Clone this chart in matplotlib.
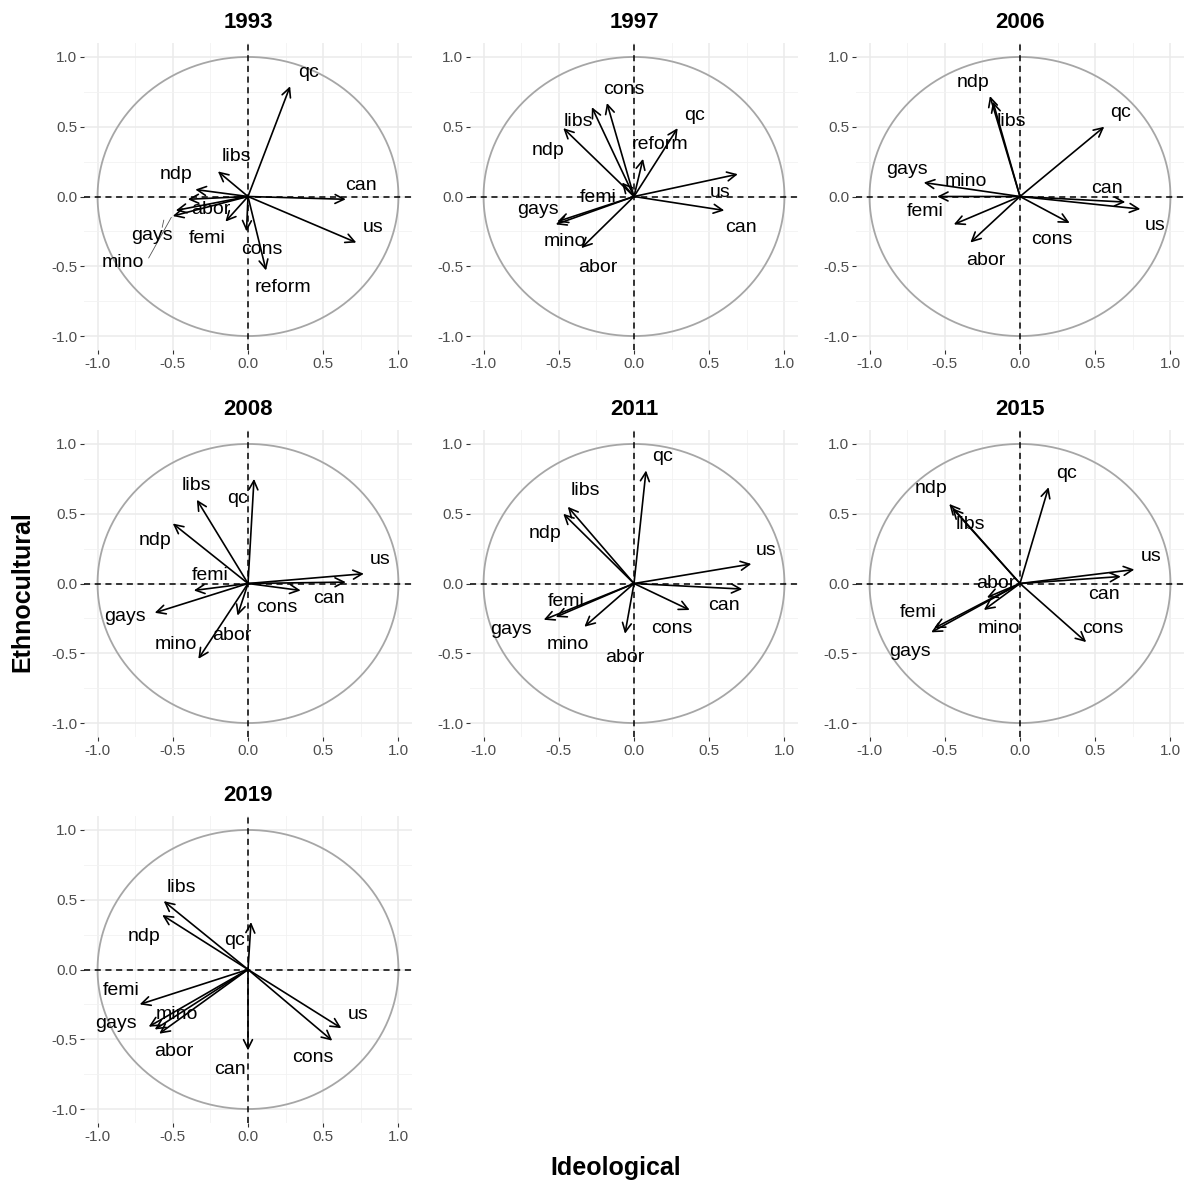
import numpy as np
import matplotlib
matplotlib.use("Agg")
from matplotlib import pyplot as plt
from matplotlib.ticker import MultipleLocator

plt.rcParams['font.family'] = ['Liberation Sans', 'DejaVu Sans']

years = ['1993', '1997', '2006', '2008', '2011', '2015', '2019']

# variable coordinates (Ideological, Ethnocultural) per year
vars_1993 = ['qc', 'can', 'us', 'reform', 'cons', 'libs', 'ndp', 'abor', 'femi', 'gays', 'mino']
x_1993 = [0.28, 0.65, 0.72, 0.12, -0.01, -0.20, -0.35, -0.40, -0.15, -0.50, -0.48]
y_1993 = [0.79, -0.02, -0.33, -0.53, -0.25, 0.18, 0.05, -0.02, -0.18, -0.14, -0.10]

vars_1997 = ['cons', 'libs', 'ndp', 'qc', 'reform', 'us', 'can', 'femi', 'gays', 'mino', 'abor']
x_1997 = [-0.18, -0.28, -0.47, 0.29, 0.06, 0.69, 0.60, -0.08, -0.52, -0.51, -0.35]
y_1997 = [0.67, 0.64, 0.49, 0.49, 0.27, 0.16, -0.10, 0.10, -0.20, -0.18, -0.37]

vars_2006 = ['ndp', 'libs', 'qc', 'gays', 'mino', 'femi', 'abor', 'cons', 'can', 'us']
x_2006 = [-0.20, -0.18, 0.56, -0.64, -0.55, -0.44, -0.33, 0.33, 0.70, 0.80]
y_2006 = [0.72, 0.68, 0.50, 0.10, 0.00, -0.20, -0.33, -0.19, -0.04, -0.09]

vars_2008 = ['qc', 'libs', 'ndp', 'us', 'can', 'cons', 'femi', 'gays', 'abor', 'mino']
x_2008 = [0.04, -0.34, -0.50, 0.77, 0.65, 0.35, -0.36, -0.62, -0.07, -0.33]
y_2008 = [0.75, 0.60, 0.43, 0.07, 0.01, -0.05, -0.05, -0.21, -0.23, -0.54]

vars_2011 = ['qc', 'libs', 'ndp', 'us', 'can', 'cons', 'femi', 'gays', 'mino', 'abor']
x_2011 = [0.08, -0.44, -0.47, 0.78, 0.72, 0.37, -0.52, -0.60, -0.33, -0.06]
y_2011 = [0.81, 0.55, 0.50, 0.14, -0.04, -0.19, -0.24, -0.26, -0.31, -0.36]

vars_2015 = ['qc', 'ndp', 'libs', 'us', 'can', 'cons', 'abor', 'mino', 'femi', 'gays']
x_2015 = [0.19, -0.47, -0.45, 0.76, 0.67, 0.44, -0.22, -0.24, -0.57, -0.59]
y_2015 = [0.69, 0.57, 0.54, 0.10, 0.05, -0.42, -0.10, -0.19, -0.32, -0.35]

vars_2019 = ['libs', 'ndp', 'qc', 'femi', 'mino', 'gays', 'abor', 'can', 'us', 'cons']
x_2019 = [-0.56, -0.57, 0.02, -0.72, -0.62, -0.66, -0.59, 0.00, 0.62, 0.56]
y_2019 = [0.49, 0.39, 0.34, -0.25, -0.43, -0.41, -0.46, -0.58, -0.42, -0.51]

# label positions (as repelled in the original)
labx_1993 = [0.40, 0.75, 0.83, 0.23, 0.09, -0.08, -0.48, -0.25, -0.27, -0.64, -0.83]
laby_1993 = [0.89, 0.08, -0.22, -0.65, -0.38, 0.29, 0.16, -0.09, -0.30, -0.28, -0.47]
labx_1997 = [-0.07, -0.37, -0.57, 0.40, 0.17, 0.57, 0.71, -0.24, -0.64, -0.46, -0.24]
laby_1997 = [0.77, 0.54, 0.33, 0.58, 0.37, 0.03, -0.22, -0.01, -0.09, -0.32, -0.51]
labx_2006 = [-0.31, -0.06, 0.67, -0.75, -0.36, -0.63, -0.23, 0.21, 0.58, 0.90]
laby_2006 = [0.82, 0.54, 0.60, 0.19, 0.11, -0.11, -0.46, -0.31, 0.06, -0.21]
labx_2008 = [-0.07, -0.34, -0.62, 0.88, 0.54, 0.19, -0.25, -0.82, -0.11, -0.48]
laby_2008 = [0.61, 0.70, 0.31, 0.17, -0.11, -0.17, 0.06, -0.24, -0.37, -0.44]
labx_2011 = [0.19, -0.32, -0.59, 0.88, 0.60, 0.25, -0.45, -0.82, -0.44, -0.06]
laby_2011 = [0.91, 0.67, 0.36, 0.24, -0.16, -0.32, -0.13, -0.33, -0.44, -0.53]
labx_2015 = [0.31, -0.59, -0.33, 0.87, 0.56, 0.55, -0.16, -0.14, -0.68, -0.73]
laby_2015 = [0.79, 0.68, 0.42, 0.19, -0.08, -0.32, 0.00, -0.32, -0.21, -0.49]
labx_2019 = [-0.44, -0.69, -0.09, -0.84, -0.47, -0.88, -0.49, -0.12, 0.73, 0.43]
laby_2019 = [0.59, 0.24, 0.21, -0.15, -0.32, -0.39, -0.59, -0.72, -0.32, -0.63]

panels = [
    (vars_1993, x_1993, y_1993, labx_1993, laby_1993),
    (vars_1997, x_1997, y_1997, labx_1997, laby_1997),
    (vars_2006, x_2006, y_2006, labx_2006, laby_2006),
    (vars_2008, x_2008, y_2008, labx_2008, laby_2008),
    (vars_2011, x_2011, y_2011, labx_2011, laby_2011),
    (vars_2015, x_2015, y_2015, labx_2015, laby_2015),
    (vars_2019, x_2019, y_2019, labx_2019, laby_2019),
]

W, H = 1193, 1191
fig = plt.figure(figsize=(W / 100, H / 100), dpi=100)

col_left = [84, 470, 856]
row_top = [43, 430, 816]
pw, ph = 328, 307

theta = np.linspace(0, 2 * np.pi, 400)

for i, year in enumerate(years):
    r, c = divmod(i, 3)
    ax = fig.add_axes([col_left[c] / W, (H - row_top[r] - ph) / H, pw / W, ph / H])
    names, xs, ys, lx, ly = panels[i]

    ax.set_xlim(-1.09, 1.09)
    ax.set_ylim(-1.10, 1.10)
    ax.xaxis.set_minor_locator(MultipleLocator(0.25))
    ax.yaxis.set_minor_locator(MultipleLocator(0.25))
    ax.grid(which='major', color='#EBEBEB', lw=1.1)
    ax.grid(which='minor', color='#F2F2F2', lw=0.6)
    ax.set_axisbelow(True)
    for s in ax.spines.values():
        s.set_visible(False)
    ax.tick_params(which='major', length=3, width=0.8, color='#333333',
                   labelsize=11, labelcolor='#4D4D4D', pad=2)
    ax.tick_params(which='minor', length=0)
    ax.set_xticks([-1, -0.5, 0, 0.5, 1])
    ax.set_xticklabels(['-1.0', '-0.5', '0.0', '0.5', '1.0'])
    ax.set_yticks([-1, -0.5, 0, 0.5, 1])
    ax.set_yticklabels(['-1.0', '-0.5', '0.0', '0.5', '1.0'])

    ax.plot(np.cos(theta), np.sin(theta), color='#A6A6A6', lw=1.3, zorder=2)
    ax.axhline(0, color='black', lw=1.1, ls=(0, (4, 3)), zorder=2)
    ax.axvline(0, color='black', lw=1.1, ls=(0, (4, 3)), zorder=2)

    for n, x, y, tx, ty in zip(names, xs, ys, lx, ly):
        ax.annotate('', xy=(x, y), xytext=(0, 0),
                    arrowprops=dict(arrowstyle='->', color='black', lw=1.2,
                                    shrinkA=0, shrinkB=0, mutation_scale=16),
                    zorder=3)
        ax.text(tx, ty, n, fontsize=14, ha='center', va='center', color='black', zorder=4)

    if year == '1993':
        # repel segments for the crowded labels
        ax.plot([-0.66, -0.51], [-0.44, -0.15], color='#555555', lw=0.6, zorder=3)
        ax.plot([-0.57, -0.56], [-0.22, -0.17], color='#555555', lw=0.6, zorder=3)

    ax.set_title(year, fontsize=16, fontweight='bold', pad=11)

fig.text(616 / W, 1 - 1168 / H, 'Ideological', fontsize=18, fontweight='bold',
         ha='center', va='center')
fig.text(22 / W, 1 - 592 / H, 'Ethnocultural', fontsize=18, fontweight='bold',
         ha='center', va='center', rotation=90)

fig.savefig('out.png', dpi=100)
